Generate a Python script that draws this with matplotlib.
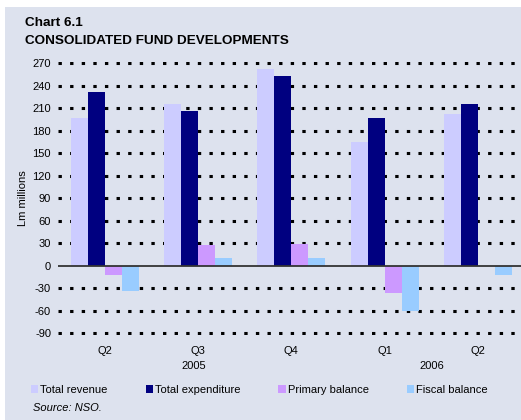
import numpy as np
import matplotlib.pyplot as plt
from matplotlib.patches import Rectangle, Patch
from matplotlib.transforms import blended_transform_factory

plt.rcParams['font.family'] = ['Liberation Sans', 'DejaVu Sans']

quarters = ['Q2', 'Q3', 'Q4', 'Q1', 'Q2']
years = ['2005', '2006']
year_pos = [0.95, 3.5]

revenue = [197, 216, 262, 165, 202]
expenditure = [231, 206, 253, 197, 216]
primary = [-12, 27, 29, -37, -1]
fiscal = [-34, 10, 10, -60, -13]

series = [('Total revenue', revenue, '#ccccff'),
          ('Total expenditure', expenditure, '#000080'),
          ('Primary balance', primary, '#cc99ff'),
          ('Fiscal balance', fiscal, '#99ccff')]

W, H = 521, 420
fig = plt.figure(figsize=(W / 100, H / 100), dpi=100)
fig.patch.set_facecolor('white')
bg = '#dde2ee'
fig.patches.append(Rectangle((5 / W, 0), 1, 1 - 7 / H, transform=fig.transFigure,
                             facecolor=bg, edgecolor='none', zorder=-10))

# y=0 sits at 265.7 px, 0.75 px per unit
ymin, ymax = -92, 272
y0 = 265.7
top_px = y0 - ymax * 0.75
bot_px = y0 - ymin * 0.75
ax = fig.add_axes([58 / W, 1 - bot_px / H, 466.7 / W, (bot_px - top_px) / H])
ax.set_facecolor('none')
ax.set_ylim(ymin, ymax)
ax.set_xlim(-0.5, 4.5)

x = np.arange(len(quarters))
bw = 0.182
for i, (name, vals, col) in enumerate(series):
    ax.bar(x + (i - 1.5) * bw, vals, width=bw, color=col, zorder=3, label=name)

yt = np.arange(-90, 271, 30)
for v in yt:
    if v == 0:
        continue
    ax.axhline(v, color='black', lw=2.2, linestyle=(0, (1.1, 2.7)), zorder=1)
ax.axhline(0, color='#333333', lw=1.3, zorder=4)

ax.set_yticks(yt)
ax.set_yticklabels([str(v) for v in yt], fontsize=8)
ax.tick_params(axis='y', length=0, pad=5)
ax.set_xticks(x)
ax.set_xticklabels(quarters, fontsize=8)
ax.tick_params(axis='x', length=0, pad=8)
for s in ax.spines.values():
    s.set_visible(False)

tr = blended_transform_factory(ax.transData, fig.transFigure)
for yr, p in zip(years, year_pos):
    ax.text(p, 1 - 366 / H, yr, transform=tr, ha='center', va='center', fontsize=8)

fig.text(23 / W, 1 - 198 / H, 'Lm millions', rotation=90, ha='center', va='center', fontsize=8)

fig.text(25 / W, 1 - 23 / H, 'Chart 6.1', fontsize=9.7, fontweight='bold', ha='left', va='center')
fig.text(25 / W, 1 - 41 / H, 'CONSOLIDATED FUND DEVELOPMENTS', fontsize=9.7,
         fontweight='bold', ha='left', va='center')

handles = [Patch(facecolor=c, edgecolor='none') for _, _, c in series]
fig.legend(handles, [n for n, _, _ in series], loc='center left',
           bbox_to_anchor=(31 / W, 1 - 390 / H), ncol=4, frameon=False, fontsize=8,
           handlelength=0.65, handleheight=0.65, handletextpad=0.2, columnspacing=3.4,
           borderpad=0, borderaxespad=0)

fig.text(33 / W, 1 - 408 / H, 'Source: NSO.', fontsize=8, style='italic', ha='left', va='center')

fig.savefig('out.png', dpi=100)
